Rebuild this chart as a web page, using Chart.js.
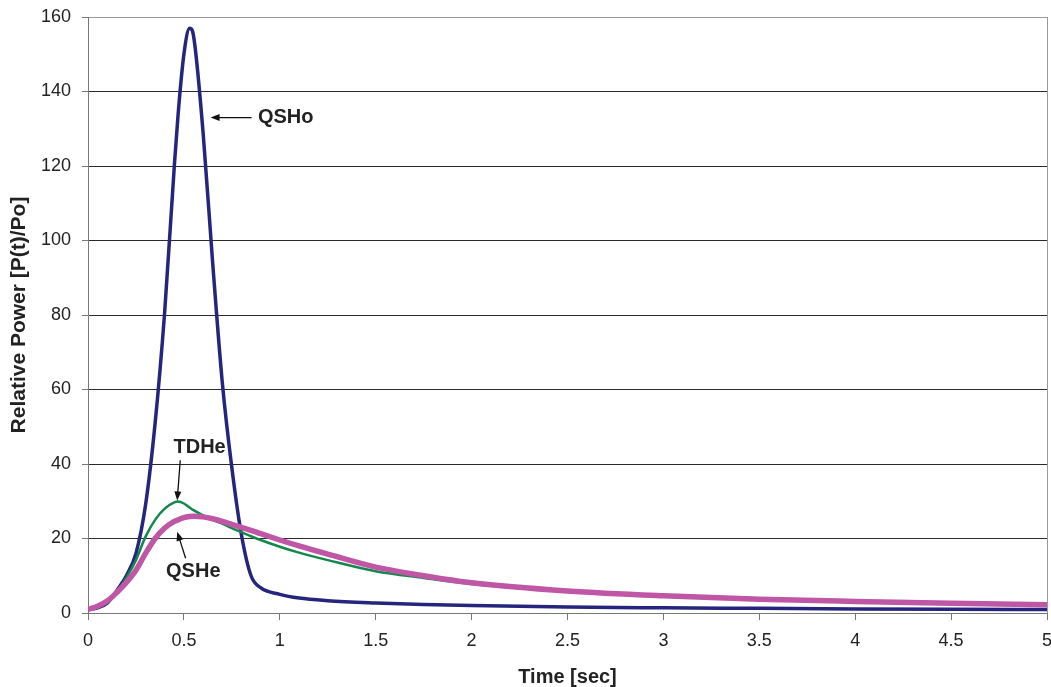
<!DOCTYPE html>
<html>
<head>
<meta charset="utf-8">
<script src="https://cdn.jsdelivr.net/npm/chart.js@4/dist/chart.umd.min.js"></script>
<style>
  html, body { margin: 0; padding: 0; background: #fff; }
  #wrap { width: 1051px; height: 687px; }
</style>
</head>
<body>
<div id="wrap"><canvas id="c"></canvas></div>
<script>
// --- dati ---
const times = [0, 0.05, 0.1, 0.15, 0.2, 0.25, 0.3, 0.35, 0.4, 0.45, 0.47, 0.5, 0.53, 0.55, 0.6, 0.65,
  0.7, 0.75, 0.8, 0.85, 0.9, 1.0, 1.1, 1.25, 1.5, 1.75, 2, 2.5, 3, 3.5, 4, 4.5, 5];
const qsho = [1, 1.4, 2.6, 6.0, 10, 16, 29, 51, 81, 120, 134, 150, 157, 155, 129, 94,
  62, 39, 21, 10, 6.8, 5.0, 4.0, 3.3, 2.7, 2.3, 2.0, 1.6, 1.4, 1.25, 1.1, 1.0, 0.95];
const tdhe = [1, 1.8, 3.3, 5.8, 9.5, 14.2, 20.5, 25, 28, 29.7, 29.9, 29.4, 28.3, 27.6, 26.2, 25.0,
  24.0, 22.8, 21.7, 20.6, 19.6, 17.8, 16.2, 14.2, 11.2, 9.4, 7.8, 5.8, 4.5, 3.6, 3.0, 2.5, 2.1];
const qshe = [1, 1.8, 3.2, 5.5, 8.2, 11.5, 16, 20, 22.8, 24.6, 25.0, 25.6, 25.9, 26, 25.8, 25.3,
  24.6, 23.8, 23, 22.2, 21.3, 19.6, 18, 15.8, 12.3, 10, 8.1, 5.9, 4.6, 3.7, 3.1, 2.6, 2.2];

const xTitle = "Time [sec]";
const yTitle = "Relative Power [P(t)/Po]";

// etichette con freccia: testo (x,y) e freccia da (x1,y1) a (x2,y2), in unità dati
const labelNames = ["QSHo", "TDHe", "QSHe"];
const labelPos   = [[0.886, 133, "left"], [0.582, 44.3, "center"], [0.549, 11.1, "center"]];
const arrowFrom  = [[0.853, 133], [0.481, 41], [0.509, 14.7]];
const arrowTo    = [[0.639, 133], [0.465, 30.2], [0.465, 21.8]];

const FONT = "'Liberation Sans', Arial, sans-serif";
const pts = (ys) => times.map((t, i) => ({ x: t, y: ys[i] }));

// cornice grigia (bordo destro del plot)
const framePlugin = {
  id: "frame",
  afterDraw(chart){
    const { ctx, chartArea: a } = chart;
    ctx.save();
    ctx.strokeStyle = "#9a9a9a";
    ctx.lineWidth = 1;
    ctx.beginPath();
    ctx.moveTo(a.right + 0.5, a.top);
    ctx.lineTo(a.right + 0.5, a.bottom);
    ctx.stroke();
    ctx.restore();
  }
};

function arrow(ctx, x1, y1, x2, y2){
  const ang = Math.atan2(y2 - y1, x2 - x1), L = 9, W = 3.5;
  ctx.beginPath();
  ctx.moveTo(x1, y1);
  ctx.lineTo(x2 - Math.cos(ang) * L * 0.8, y2 - Math.sin(ang) * L * 0.8);
  ctx.stroke();
  ctx.beginPath();
  ctx.moveTo(x2, y2);
  ctx.lineTo(x2 - Math.cos(ang) * L - Math.sin(ang) * W, y2 - Math.sin(ang) * L + Math.cos(ang) * W);
  ctx.lineTo(x2 - Math.cos(ang) * L + Math.sin(ang) * W, y2 - Math.sin(ang) * L - Math.cos(ang) * W);
  ctx.closePath();
  ctx.fill();
}

const labelPlugin = {
  id: "labels",
  afterDatasetsDraw(chart){
    const { ctx, scales: { x, y } } = chart;
    ctx.save();
    ctx.strokeStyle = "#111";
    ctx.lineWidth = 1.3;
    ctx.font = "bold 20px " + FONT;
    ctx.textBaseline = "middle";
    labelNames.forEach((name, i) => {
      const [lx, ly, al] = labelPos[i];
      ctx.textAlign = al;
      ctx.fillStyle = "#222";
      ctx.fillText(name, x.getPixelForValue(lx), y.getPixelForValue(ly));
      ctx.fillStyle = "#111";
      arrow(ctx,
        x.getPixelForValue(arrowFrom[i][0]), y.getPixelForValue(arrowFrom[i][1]),
        x.getPixelForValue(arrowTo[i][0]), y.getPixelForValue(arrowTo[i][1]));
    });
    ctx.restore();
  }
};

new Chart(document.getElementById("c"), {
  type: "line",
  data: {
    datasets: [
      { label: "QSHe", data: pts(qshe), borderColor: "#C056A6", borderWidth: 5.5, order: 1 },
      { label: "TDHe", data: pts(tdhe), borderColor: "#12894A", borderWidth: 2.5, order: 2 },
      { label: "QSHo", data: pts(qsho), borderColor: "#25257D", borderWidth: 3.5, order: 3 }
    ]
  },
  options: {
    responsive: true, maintainAspectRatio: false, animation: false,
    layout: { padding: { top: 17, right: 4, left: 0, bottom: 0 } },
    elements: { point: { radius: 0 }, line: { cubicInterpolationMode: "monotone", fill: false } },
    plugins: { legend: { display: false }, tooltip: { enabled: false } },
    scales: {
      x: {
        type: "linear", min: 0, max: 5,
        afterFit: (s) => { s.height = 74; s.paddingRight = 0; s.paddingLeft = 0; },
        grid: { drawOnChartArea: false, tickLength: 7, color: "#777" },
        border: { color: "#777", width: 1 },
        ticks: { stepSize: 0.5, color: "#222", padding: 10, maxRotation: 0,
          font: { family: FONT, size: 18 }, callback: (v) => String(v) },
        title: { display: true, text: xTitle, color: "#222", padding: { top: 0, bottom: 0 },
          font: { family: FONT, size: 20, weight: "bold", lineHeight: 1 } }
      },
      y: {
        min: 0, max: 160,
        afterFit: (s) => { s.width = 88; s.paddingTop = 0; s.paddingBottom = 0; },
        grid: {
          tickLength: 6, tickColor: "#777",
          color: (c) => (c.tick && c.tick.value === 160) ? "#9a9a9a" : "#2a2a2a",
          lineWidth: 1
        },
        border: { color: "#777", width: 1 },
        ticks: { stepSize: 20, color: "#222", padding: 11, font: { family: FONT, size: 18 } },
        title: { display: true, text: yTitle, color: "#222", padding: { top: 7, bottom: 0 },
          font: { family: FONT, size: 21, weight: "bold", lineHeight: 1.2 } }
      }
    }
  },
  plugins: [framePlugin, labelPlugin]
});
</script>
</body>
</html>
